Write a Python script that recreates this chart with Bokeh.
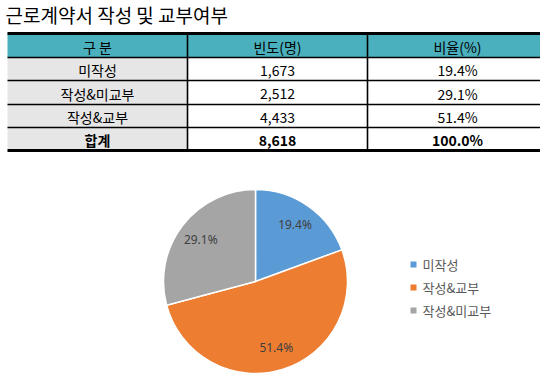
import numpy as np
from bokeh.plotting import figure
from bokeh.models import Range1d, ColumnDataSource
from bokeh.core.properties import value
from bokeh.embed import file_html
from bokeh.resources import INLINE

# ---------------- data ----------------
title = "근로계약서 작성 및 교부여부"
header = ["구 분", "빈도(명)", "비율(%)"]
table_categories = ["미작성", "작성&미교부", "작성&교부"]
table_counts = [1673, 2512, 4433]
table_ratios = ["19.4%", "29.1%", "51.4%"]
total_label = "합계"
total_count = 8618
total_ratio = "100.0%"

pie_categories = ["미작성", "작성&교부", "작성&미교부"]
pie_values = [1673, 4433, 2512]
pie_labels = ["19.4%", "51.4%", "29.1%"]
pie_colors = ["#5B9BD5", "#ED7D31", "#A5A5A5"]

# ---------------- layout (picture pixel space) ----------------
W, Hf = 540, 373
H = 389
def Y(y):
    return H - y

KR = value("Noto Sans CJK KR")

p = figure(width=W, height=Hf, output_backend="svg", toolbar_location=None,
           x_range=Range1d(0, W), y_range=Range1d(H - Hf, H),
           min_border=0, outline_line_color=None, background_fill_color="white")
p.axis.visible = False
p.grid.visible = False

# title
p.text(x=[5], y=[Y(14)], text=[title], text_font=KR, text_font_size="19px",
       text_baseline="middle", text_align="left", text_color="#000000")

# table geometry
col_edges = [7, 187, 367, 547]
row_edges = [33, 57, 80, 104, 127, 150]

# header fill
p.quad(left=[col_edges[0]], right=[col_edges[-1]], top=[Y(row_edges[0])], bottom=[Y(row_edges[1])],
       fill_color="#4BB0BE", line_color=None)
# first column gray
p.quad(left=[col_edges[0]], right=[col_edges[1]], top=[Y(row_edges[1])], bottom=[Y(row_edges[-1])],
       fill_color="#E6E6E6", line_color=None)

# horizontal lines
for i, yy in enumerate(row_edges):
    lw = 3 if i in (0, len(row_edges) - 1) else 1.6
    p.segment(x0=[col_edges[0]], x1=[col_edges[-1]], y0=[Y(yy)], y1=[Y(yy)],
              line_color="black", line_width=lw)
# vertical lines
for xx in col_edges[1:-1]:
    p.segment(x0=[xx], x1=[xx], y0=[Y(row_edges[0])], y1=[Y(row_edges[-1])],
              line_color="black", line_width=1.6)

col_centers = [(col_edges[i] + col_edges[i + 1]) / 2 for i in range(3)]
row_centers = [(row_edges[i] + row_edges[i + 1]) / 2 for i in range(5)]

rows = [header]
for c, n, r in zip(table_categories, table_counts, table_ratios):
    rows.append([c, f"{n:,}", r])
total_row = [total_label, f"{total_count:,}", total_ratio]

xs, ys, ts = [], [], []
for ri, row in enumerate(rows):
    for ci, t in enumerate(row):
        xs.append(col_centers[ci]); ys.append(Y(row_centers[ri] + 1)); ts.append(t)
p.text(x=xs, y=ys, text=ts, text_font=KR, text_font_size="14px",
       text_align="center", text_baseline="middle", text_color="#000000")
p.text(x=col_centers, y=[Y(row_centers[4] + 1)] * 3, text=total_row, text_font=KR,
       text_font_size="14px", text_font_style="bold",
       text_align="center", text_baseline="middle", text_color="#000000")

# ---------------- pie ----------------
cx, cy, R = 255, 281, 92
vals = np.array(pie_values, dtype=float)
frac = vals / vals.sum()
cum = np.concatenate([[0], np.cumsum(frac)])
start = np.pi / 2 - cum[:-1] * 2 * np.pi
end = np.pi / 2 - cum[1:] * 2 * np.pi
src = ColumnDataSource(dict(start=start, end=end, color=pie_colors))
p.wedge(x=cx, y=Y(cy), radius=R, start_angle="start", end_angle="end",
        direction="clock", fill_color="color", line_color="white", line_width=1.5, source=src)

mid = (start + end) / 2
lr = R * 0.75
p.text(x=cx + lr * np.cos(mid), y=Y(cy) + lr * np.sin(mid), text=pie_labels,
       text_font=value("Noto Sans"), text_font_size="12px", text_color="#404040",
       text_align="center", text_baseline="middle")

# ---------------- legend ----------------
leg_x, leg_y0, leg_dy = 413, 264, 23
ly = [Y(leg_y0 + i * leg_dy) for i in range(len(pie_categories))]
p.scatter(x=[leg_x] * len(ly), y=ly, marker="square", size=6, fill_color=pie_colors, line_color=None)
p.text(x=[leg_x + 9] * len(ly), y=ly, text=pie_categories, text_font=KR, text_font_size="13px",
       text_color="#595959", text_align="left", text_baseline="middle")

open("out.html", "w").write(file_html(p, INLINE))
